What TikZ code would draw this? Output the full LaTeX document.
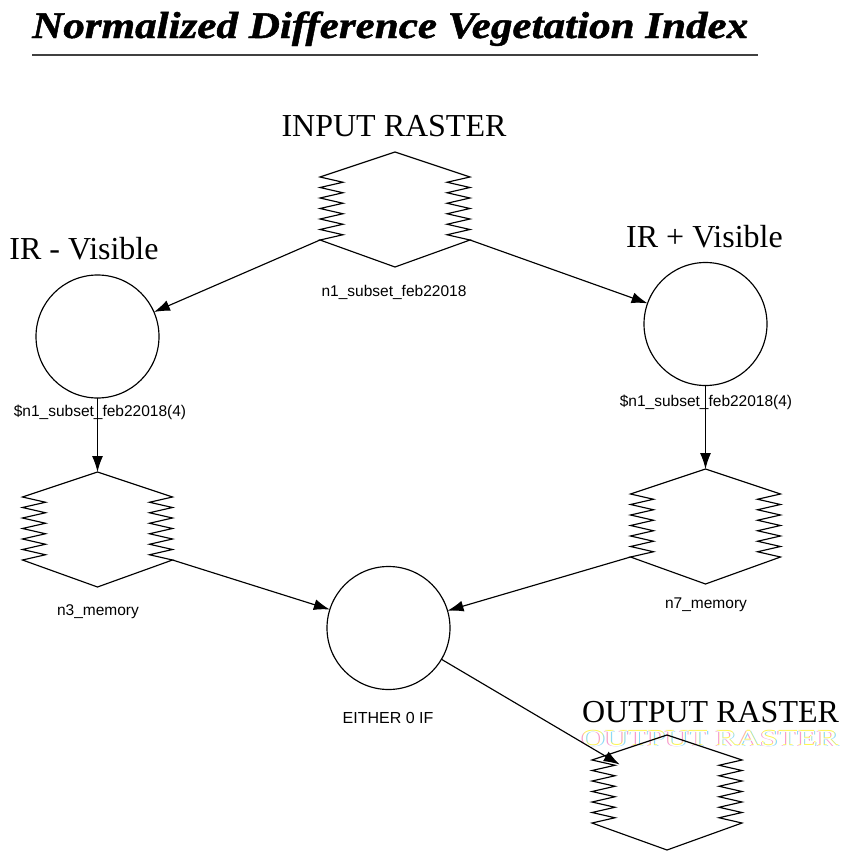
\documentclass[tikz,border=0pt]{standalone}
\usepackage{fontspec}
\setmainfont{Liberation Serif}
\newfontfamily\labelfont{Liberation Sans}
\newfontfamily\titlefont[ItalicFont={Liberation Serif Bold Italic}, ItalicFeatures={FakeBold=1.2}]{Liberation Serif}
\usetikzlibrary{arrows.meta,calc}

% Outline of a raster layer stack: pointed top and bottom, saw-tooth sides
\newcommand\rasteroutline[1]{%
  \coordinate (#1-bl) at ($(#1.south west)+(0,-27)$);
  \coordinate (#1-br) at ($(#1.south east)+(0,-27)$);
  \draw[edge] (#1.north) -- ($(#1.north west)+(0,25)$)
    \foreach \k in {1,...,6}{ -- ++(23,5.25) -- ++(-23,5.25) }
    -- (#1.south) -- (#1-br)
    \foreach \k in {1,...,6}{ -- ++(-23,-5.25) -- ++(23,-5.25) }
    -- cycle;}

\newcommand\ghosttext[1]{%
  \rlap{\color{magenta!40}\hspace{-1.2pt}#1}%
  \rlap{\color{cyan!45}\hspace{1.2pt}#1}%
  \rlap{\color{yellow!70}\raisebox{0.8pt}{#1}}%
  \color{white}#1}

\begin{document}
\begin{tikzpicture}[x=1pt,y=-1pt,
  edge/.style={line width=1.15pt, black, line join=miter},
  flow/.style={line width=1.15pt, black, -{Latex[length=16pt,width=11pt]}},
  rasterbox/.style={minimum width=150pt, minimum height=115pt, inner sep=0pt, outer sep=0pt},
  opcircle/.style={circle, draw, line width=1.15pt, minimum size=123pt, inner sep=0pt, outer sep=0pt},
  heading/.style={font=\fontsize{32}{34}\selectfont, inner sep=0pt, anchor=base},
  tag/.style={font=\labelfont\fontsize{15.5}{17}\selectfont, inner sep=0pt},
]
\useasboundingbox[fill=white] (0,0) rectangle (841,851);

% title and its rule
\node[anchor=base west, inner sep=0pt] (title) at (32,38)
  {\resizebox{716pt}{26.5pt}{\titlefont\itshape Normalized Difference Vegetation Index}};
\draw[line width=2pt, black!75] (32,55.5) -- (758,55.5);

% faded second copy of the output heading
\node[heading] (ghost) at (710,746)
  {\scalebox{1}[0.72]{\ghosttext{OUTPUT RASTER}}};

% rasters
\node[rasterbox] (in)  at (395,209.5) {};
\node[rasterbox] (n3)  at (97.5,529.5) {};
\node[rasterbox] (n7)  at (705.5,526.5) {};
\node[rasterbox] (out) at (667,792.5) {};
\rasteroutline{in}
\rasteroutline{n3}
\rasteroutline{n7}
\rasteroutline{out}

% operators
\node[opcircle] (irv) at (97.5,336.5) {};
\node[opcircle] (irp) at (705.5,324) {};
\node[opcircle] (mid) at (388.5,628) {};

% headings
\node[heading] (hin)  at (394,136) {INPUT RASTER};
\node[heading] (hirv) at (84,259) {IR - Visible};
\node[heading] (hirp) at (704.5,247) {IR + Visible};
\node[heading] (hout) at (710.5,722) {OUTPUT RASTER};

% small labels
\node[tag] (tin)  at (394,292) {n1\_subset\_feb22018};
\node[tag] (tirv) at (100,412) {\$n1\_subset\_feb22018(4)};
\node[tag] (tirp) at (706,402) {\$n1\_subset\_feb22018(4)};
\node[tag] (tn3)  at (98,612) {n3\_memory};
\node[tag] (tn7)  at (706,605) {n7\_memory};
\node[tag, font=\labelfont\fontsize{16}{18}\selectfont] (tmid) at (388,718) {EITHER 0 IF};

% connectors
\draw[flow] (in-bl) -- (irv);
\draw[flow] (in-br) -- (irp);
\draw[flow] (irv) -- (n3);
\draw[flow] (irp) -- (n7);
\draw[flow] (n3-br) -- (mid);
\draw[flow] (n7-bl) -- (mid);
\draw[flow, shorten >=55pt] (mid) -- (out.center);
\end{tikzpicture}
\end{document}
